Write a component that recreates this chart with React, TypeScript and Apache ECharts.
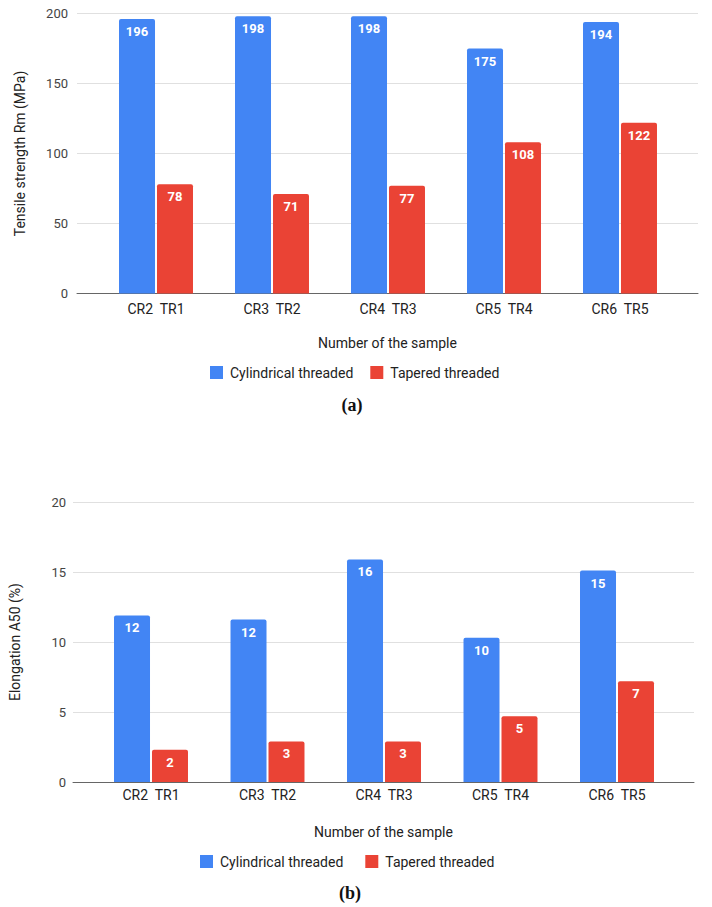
import React, { useEffect, useRef } from "react";
import * as echarts from "echarts";

const categories = ["CR2  TR1", "CR3  TR2", "CR4  TR3", "CR5  TR4", "CR6  TR5"];
const seriesNames = ["Cylindrical threaded", "Tapered threaded"];
const tensileCylindrical = [196, 198, 198, 175, 194];
const tensileTapered = [78, 71, 77, 108, 122];
const elongCylindrical = [11.9, 11.6, 15.9, 10.3, 15.1];
const elongTapered = [2.3, 2.9, 2.9, 4.7, 7.2];
const tensileAxis = { min: 0, max: 200, interval: 50 };
const elongAxis = { min: 0, max: 20, interval: 5 };
const titles = {
  tensileY: "Tensile strength Rm (MPa)",
  elongY: "Elongation A50 (%)",
  x: "Number of the sample",
  a: "(a)",
  b: "(b)",
};

const BLUE = "#4285F4";
const RED = "#EA4335";
const FONT = "Roboto, Arial, sans-serif";

export default function App() {
  const ref = useRef<HTMLDivElement>(null);
  useEffect(() => {
    if (!ref.current) return;
    const chart = echarts.init(ref.current, null, { renderer: "svg" });

    const frameX = (gridIndex: number, nameGap: number) => ({
      gridIndex,
      type: "value",
      min: 0,
      max: 1,
      axisLine: { show: true, lineStyle: { color: "#666", width: 1 } },
      axisTick: { show: false },
      axisLabel: { show: false },
      splitLine: { show: false },
      name: titles.x,
      nameLocation: "middle",
      nameGap,
      nameTextStyle: { fontSize: 14, color: "#222", fontFamily: FONT },
    });
    const catX = (gridIndex: number, margin: number) => ({
      gridIndex,
      type: "category",
      data: categories,
      axisLine: { show: false },
      axisTick: { show: false },
      axisLabel: { fontSize: 14, color: "#222", margin, fontFamily: FONT },
    });
    const frameY = (gridIndex: number, range: any, name: string, margin: number, nameGap: number) => ({
      gridIndex,
      type: "value",
      ...range,
      axisLine: { show: false },
      axisTick: { show: false },
      axisLabel: { fontSize: 13, color: "#444", margin, fontFamily: FONT },
      splitLine: { lineStyle: { color: "#e0e0e0", width: 1 } },
      name,
      nameLocation: "middle",
      nameRotate: 90,
      nameGap,
      nameTextStyle: { fontSize: 14, color: "#222", fontFamily: FONT },
    });
    const hiddenY = (gridIndex: number, range: any) => ({
      gridIndex,
      type: "value",
      ...range,
      show: false,
    });
    const bar = (name: string, data: number[], color: string, xi: number, yi: number) => ({
      type: "bar",
      name,
      data,
      xAxisIndex: xi,
      yAxisIndex: yi,
      barWidth: 36,
      barGap: "5.5%",
      itemStyle: { color, borderRadius: [2, 2, 0, 0] },
      label: {
        show: true,
        position: "insideTop",
        distance: 6,
        color: "#fff",
        fontSize: 13,
        fontWeight: "bold",
        fontFamily: FONT,
        formatter: (p: any) => String(Math.round(p.value)),
      },
    });
    const legend = (top: number, left: number, itemGap: number) => ({
      top,
      left,
      padding: 0,
      orient: "horizontal",
      itemWidth: 13,
      itemHeight: 13,
      itemGap,
      icon: "rect",
      data: seriesNames,
      textStyle: { fontSize: 14, color: "#222", fontFamily: FONT, padding: [0, 0, 0, 2] },
      selectedMode: false,
    });

    chart.setOption({
      animation: false,
      backgroundColor: "#fff",
      grid: [
        { left: 77, top: 13.5, width: 621, height: 280 },
        { left: 98, top: 13.5, width: 580, height: 280 },
        { left: 72, top: 502, width: 622, height: 280 },
        { left: 92.75, top: 502, width: 582.5, height: 280 },
      ],
      xAxis: [frameX(0, 42), catX(1, 8), frameX(2, 43), catX(3, 6)],
      yAxis: [
        frameY(0, tensileAxis, titles.tensileY, 9, 50),
        hiddenY(1, tensileAxis),
        frameY(2, elongAxis, titles.elongY, 7, 51),
        hiddenY(3, elongAxis),
      ],
      legend: [legend(365.5, 210, 17), legend(854.5, 200, 22)],
      series: [
        bar(seriesNames[0], tensileCylindrical, BLUE, 1, 1),
        bar(seriesNames[1], tensileTapered, RED, 1, 1),
        bar(seriesNames[0], elongCylindrical, BLUE, 3, 3),
        bar(seriesNames[1], elongTapered, RED, 3, 3),
      ],
      graphic: [
        {
          type: "text",
          x: 352,
          y: 405,
          style: {
            text: titles.a,
            fontSize: 18,
            fontWeight: "bold",
            fontFamily: "'Liberation Serif', serif",
            fill: "#111",
            align: "center",
            verticalAlign: "middle",
          },
        },
        {
          type: "text",
          x: 350,
          y: 893,
          style: {
            text: titles.b,
            fontSize: 18,
            fontWeight: "bold",
            fontFamily: "'Liberation Serif', serif",
            fill: "#111",
            align: "center",
            verticalAlign: "middle",
          },
        },
      ],
    });
    return () => chart.dispose();
  }, []);
  return (
    <div
      ref={ref}
      style={{ position: "absolute", left: 0, top: 0, width: 712, height: 907 }}
    />
  );
}
